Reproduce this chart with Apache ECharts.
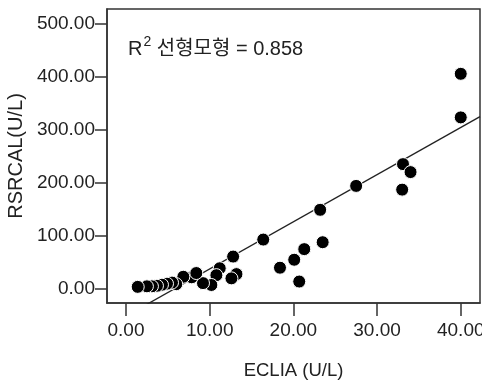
<!DOCTYPE html>
<html>
<head>
<meta charset="utf-8">
<script src="https://cdn.jsdelivr.net/npm/echarts@6/dist/echarts.min.js"></script>
<style>
html,body{margin:0;padding:0;background:#fff;}
#c{width:482px;height:384px;}
</style>
</head>
<body>
<div id="c"></div>
<script>
// ECLIA (U/L) values (x)
const eclia = [40.0, 40.0, 33.1, 34.0, 33.0, 27.5, 23.2, 23.5, 21.3, 20.1, 20.7, 18.4, 16.4,
  12.8, 13.2, 12.6, 11.2, 10.8, 10.2, 9.2, 7.85, 8.4, 6.85, 6.0, 5.5, 4.9, 4.3, 3.7, 3.1, 2.5, 1.4];
// RSRCAL (U/L) values (y)
const rsrcal = [405, 323, 235, 220, 187, 194, 149, 88, 75, 55, 14, 40, 93,
  61, 28, 20, 39, 26, 7.5, 11, 22, 30, 23, 9, 12, 10, 8, 6, 5, 5, 4];
const xTicks = [0, 10, 20, 30, 40];
const yTicks = [0, 100, 200, 300, 400, 500];
// linear fit reported by the chart
const fitSlope = 8.88;
const fitIntercept = -51.1;
const rSquared = '0.858';

const xMin = -2.27, xMax = 42.3, yMin = -26.4, yMax = 527;

const pts = eclia.map((x, i) => [x, rsrcal[i]]);
const fitLine = [[xMin, fitIntercept + fitSlope * xMin], [xMax, fitIntercept + fitSlope * xMax]];

const font = '"Liberation Sans", Arial, "Noto Sans CJK KR", sans-serif';
const ink = '#222';
const chart = echarts.init(document.getElementById('c'), null, {renderer: 'canvas'});
chart.setOption({
  animation: false,
  backgroundColor: '#fff',
  grid: {left: 107, right: 2, top: 9, bottom: 81, show: true, borderColor: '#333', borderWidth: 1.5,
    containLabel: false, outerBoundsMode: 'none'},
  xAxis: {
    type: 'value', min: xMin, max: xMax,
    name: 'ECLIA (U/L)', nameLocation: 'middle', nameGap: 59,
    nameTextStyle: {fontFamily: font, fontSize: 18.5, color: ink},
    axisLine: {show: true, onZero: false, lineStyle: {color: '#333', width: 1.5}},
    axisTick: {show: true, inside: false, length: 13, customValues: xTicks, lineStyle: {color: '#333', width: 1.5}},
    axisLabel: {customValues: xTicks, margin: 18, fontFamily: font, fontSize: 19, color: ink,
      hideOverlap: false, formatter: v => v.toFixed(2)},
    splitLine: {show: false}
  },
  yAxis: {
    type: 'value', min: yMin, max: yMax,
    name: 'RSRCAL(U/L)', nameLocation: 'middle', nameGap: 81,
    nameTextStyle: {fontFamily: font, fontSize: 20, color: ink},
    axisLine: {show: true, onZero: false, lineStyle: {color: '#333', width: 1.5}},
    axisTick: {show: true, inside: false, length: 12, customValues: yTicks, lineStyle: {color: '#333', width: 1.5}},
    axisLabel: {customValues: yTicks, margin: 12, fontFamily: font, fontSize: 19, color: ink,
      formatter: v => v.toFixed(2)},
    splitLine: {show: false}
  },
  graphic: [{
    type: 'text', left: 128, top: 35, z: 10,
    style: {
      text: '{r|R}{s|2}{t| 선형모형 = ' + rSquared + '}',
      rich: {
        r: {fontFamily: font, fontSize: 20, fill: ink, verticalAlign: 'bottom', height: 24},
        s: {fontFamily: font, fontSize: 14, fill: ink, verticalAlign: 'top', height: 24, padding: [0, 0, 7, 1]},
        t: {fontFamily: font, fontSize: 20, fill: ink, verticalAlign: 'bottom', height: 24}
      }
    }
  }],
  series: [
    {
      type: 'line', data: fitLine, symbol: 'none', clip: true, silent: true,
      lineStyle: {color: '#222', width: 1.3}, z: 1
    },
    {
      type: 'scatter', data: pts, symbol: 'circle', symbolSize: 13,
      itemStyle: {color: '#000', borderColor: '#fff', borderWidth: 1, opacity: 1}, z: 2
    }
  ]
});
</script>
</body>
</html>
